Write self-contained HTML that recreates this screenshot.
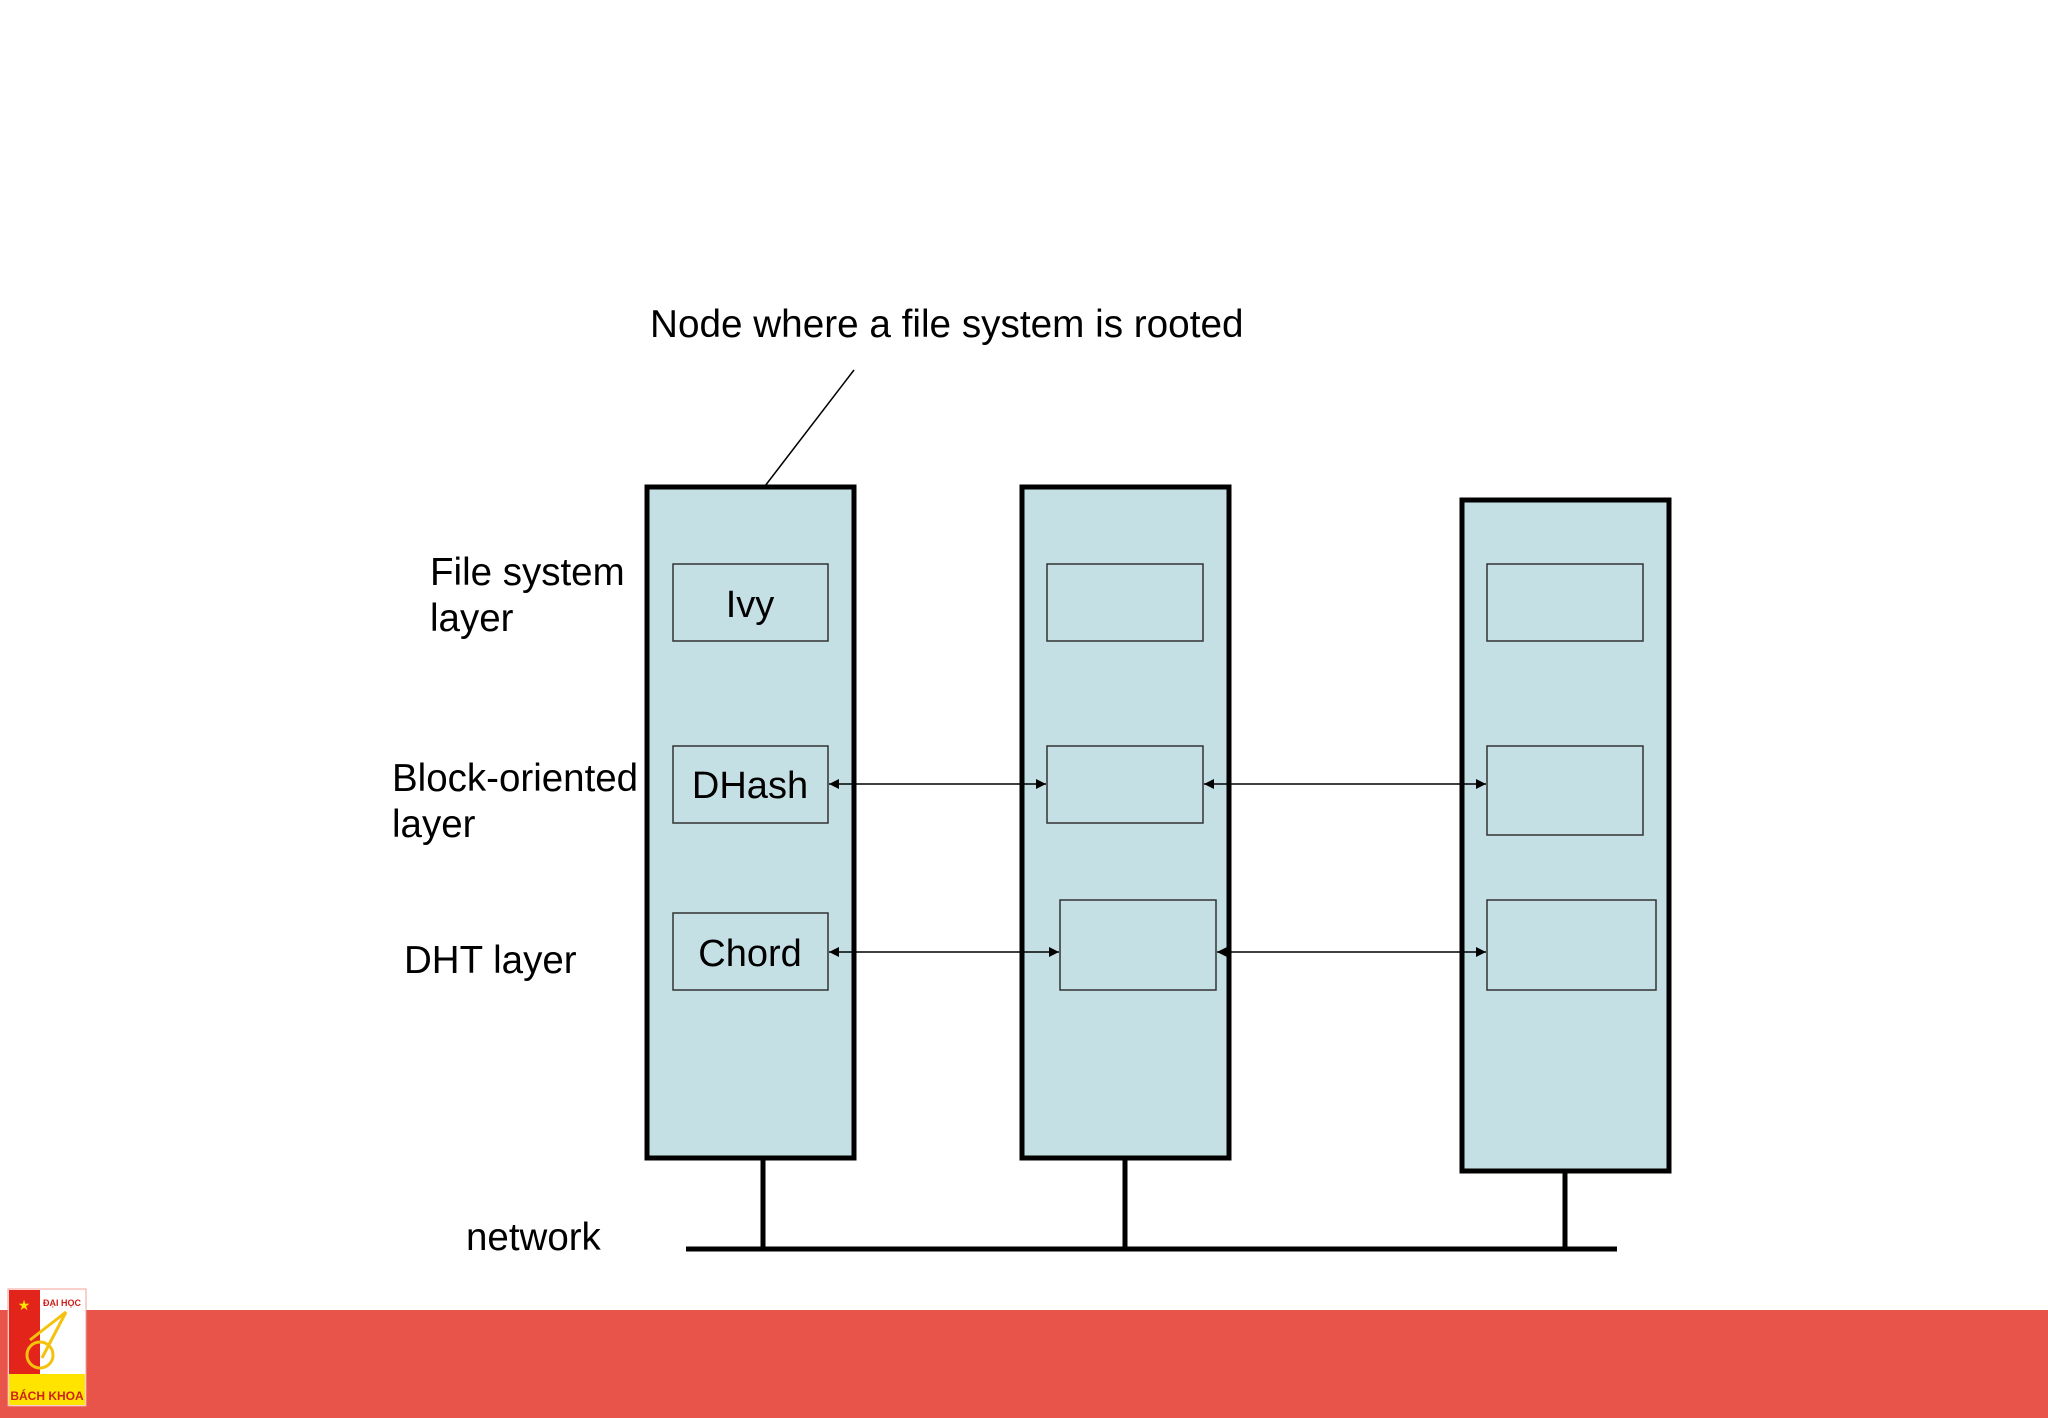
<!DOCTYPE html>
<html><head><meta charset="utf-8"><style>
html,body{margin:0;padding:0;background:#fff}
body{width:2048px;height:1418px;position:relative;overflow:hidden;font-family:"Liberation Sans",Arial,sans-serif}
</style></head><body>
<svg width="2048" height="1418" viewBox="0 0 2048 1418" xmlns="http://www.w3.org/2000/svg" style="position:absolute;left:0;top:0">
<defs>
<marker id="ah" viewBox="0 0 10 10" refX="10" refY="5" markerWidth="10" markerHeight="10" markerUnits="userSpaceOnUse" orient="auto-start-reverse"><path d="M0,0 L10,5 L0,10 z" fill="#000"/></marker>
</defs>
<rect x="0" y="1310" width="2048" height="108" fill="#E8534A"/>
<g font-family="Liberation Sans, Arial, sans-serif" fill="#000">
<text x="650" y="337" font-size="38.7">Node where a file system is rooted</text>
<text x="430" y="585" font-size="38.5">File system</text>
<text x="430" y="631" font-size="38.5">layer</text>
<text x="392" y="791" font-size="38.5">Block-oriented</text>
<text x="392" y="837" font-size="38.5">layer</text>
<text x="404" y="973" font-size="38.5">DHT layer</text>
<text x="466" y="1250" font-size="38.5">network</text>
</g>
<line x1="854" y1="370" x2="765" y2="486" stroke="#000" stroke-width="1.5"/>
<g fill="#C5E0E5" stroke="#000" stroke-width="5">
<rect x="647" y="487" width="207" height="671"/>
<rect x="1022" y="487" width="207" height="671"/>
<rect x="1462" y="500" width="207" height="671"/>
</g>
<g stroke="#000" stroke-width="5">
<line x1="763" y1="1158" x2="763" y2="1249"/>
<line x1="1125" y1="1158" x2="1125" y2="1249"/>
<line x1="1565" y1="1171" x2="1565" y2="1249"/>
<line x1="686" y1="1249" x2="1617" y2="1249"/>
</g>
<g fill="#C5E0E5" stroke="#333" stroke-width="1.5">
<rect x="673" y="564" width="155" height="77"/>
<rect x="673" y="746" width="155" height="77"/>
<rect x="673" y="913" width="155" height="77"/>
<rect x="1047" y="564" width="156" height="77"/>
<rect x="1047" y="746" width="156" height="77"/>
<rect x="1060" y="900" width="156" height="90"/>
<rect x="1487" y="564" width="156" height="77"/>
<rect x="1487" y="746" width="156" height="89"/>
<rect x="1487" y="900" width="169" height="90"/>
</g>
<g font-family="Liberation Sans, Arial, sans-serif" font-size="38" text-anchor="middle" fill="#000">
<text x="750" y="617">Ivy</text>
<text x="750" y="798">DHash</text>
<text x="750" y="966">Chord</text>
</g>
<g stroke="#000" stroke-width="1.5" marker-start="url(#ah)" marker-end="url(#ah)">
<line x1="829" y1="784" x2="1046" y2="784"/>
<line x1="1204" y1="784" x2="1486" y2="784"/>
<line x1="829" y1="952" x2="1059" y2="952"/>
<line x1="1217" y1="952" x2="1486" y2="952"/>
</g>
<g>
<rect x="8" y="1289" width="78" height="117" fill="#fff" stroke="#f3a09a" stroke-width="1"/>
<rect x="9" y="1290" width="31" height="84" fill="#E3241B"/>
<rect x="9" y="1374" width="76" height="31" fill="#FFE400"/>
<text x="24" y="1310" font-size="14" fill="#FFE400" text-anchor="middle">★</text>
<text x="62" y="1306" font-size="9" font-weight="bold" fill="#D0201B" text-anchor="middle" font-family="Liberation Sans, Arial, sans-serif">ĐẠI HỌC</text>
<circle cx="40" cy="1355" r="13" fill="none" stroke="#F4C20D" stroke-width="3"/>
<line x1="42" y1="1358" x2="66" y2="1312" stroke="#F4C20D" stroke-width="3"/>
<line x1="30" y1="1340" x2="66" y2="1312" stroke="#F4C20D" stroke-width="3"/>
<text x="47" y="1400" font-size="12" font-weight="bold" fill="#D0201B" text-anchor="middle" font-family="Liberation Sans, Arial, sans-serif">BÁCH KHOA</text>
</g>
</svg>
</body></html>
